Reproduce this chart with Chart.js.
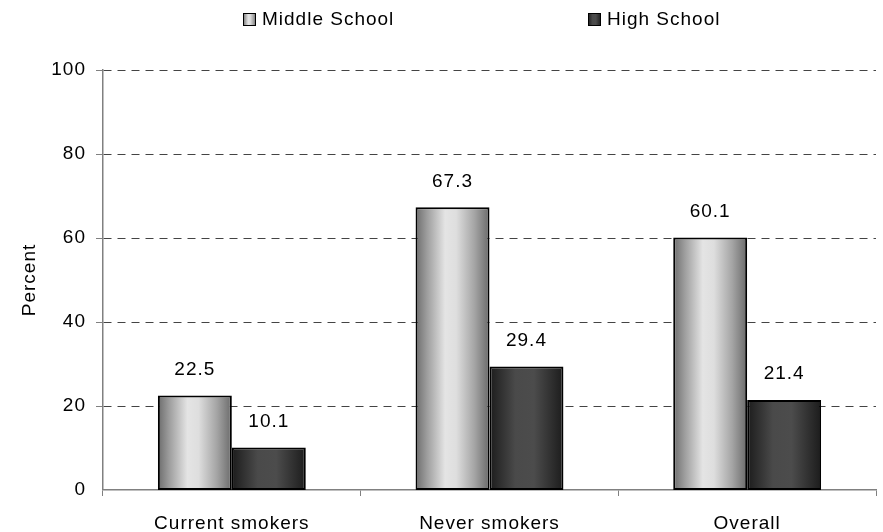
<!DOCTYPE html>
<html>
<head>
<meta charset="utf-8">
<script src="https://cdn.jsdelivr.net/npm/chart.js@4"></script>
<style>
  html, body { margin: 0; padding: 0; background: #fff; }
  #wrap { width: 883px; height: 532px; }
</style>
</head>
<body>
<div id="wrap"><canvas id="smokeChart" width="883" height="532"></canvas></div>
<script>
const categories = ['Current smokers', 'Never smokers', 'Overall'];
const middleSchool = [22.5, 67.3, 60.1];
const highSchool = [10.1, 29.4, 21.4];
const seriesNames = ['Middle School', 'High School'];

const FONT = '"Liberation Sans", Arial, sans-serif';

// horizontal "cylinder" shading
const lightStops = [[0, '#6c6c6c'], [0.15, '#9c9c9c'], [0.4, '#e4e4e4'], [0.55, '#dedede'], [0.8, '#a4a4a4'], [1, '#6a6a6a']];
const darkStops = [[0, '#1c1c1c'], [0.35, '#4a4a4a'], [0.6, '#4c4c4c'], [1, '#1c1c1c']];

function makeGradient(ctx, x0, x1, stops) {
  const g = ctx.createLinearGradient(x0, 0, x1, 0);
  stops.forEach(s => g.addColorStop(s[0], s[1]));
  return g;
}

const shadePlugin = {
  id: 'shade',
  beforeDraw(chart) {
    chart.ctx.letterSpacing = '1px';
  },
  beforeDatasetsDraw(chart) {
    const ctx = chart.ctx;
    chart.data.datasets.forEach((ds, i) => {
      const stops = i === 0 ? lightStops : darkStops;
      chart.getDatasetMeta(i).data.forEach(bar => {
        const g = makeGradient(ctx, bar.x - bar.width / 2, bar.x + bar.width / 2, stops);
        bar.options = Object.assign({}, bar.options, { backgroundColor: g });
      });
    });
  },
  afterDatasetsDraw(chart) {
    const ctx = chart.ctx;
    ctx.save();
    ctx.font = '19px ' + FONT;
    ctx.fillStyle = '#000';
    ctx.textAlign = 'center';
    ctx.textBaseline = 'middle';
    chart.data.datasets.forEach((ds, i) => {
      chart.getDatasetMeta(i).data.forEach((bar, j) => {
        ctx.fillText(ds.data[j].toFixed(1), bar.x, bar.y - 26);
      });
    });
    ctx.restore();
  },
  afterDraw(chart) {
    // legend
    const ctx = chart.ctx;
    const items = [[243, 262, lightStops], [588, 607, darkStops]];
    ctx.save();
    ctx.font = '19px ' + FONT;
    ctx.textBaseline = 'middle';
    items.forEach((it, i) => {
      ctx.fillStyle = makeGradient(ctx, it[0], it[0] + 13, it[2]);
      ctx.fillRect(it[0], 13, 13, 13);
      ctx.strokeStyle = '#000';
      ctx.lineWidth = 1;
      ctx.strokeRect(it[0] + 0.5, 13.5, 12, 12);
      ctx.fillStyle = '#000';
      ctx.fillText(seriesNames[i], it[1], 20);
    });
    ctx.restore();
  }
};

new Chart(document.getElementById('smokeChart'), {
  type: 'bar',
  data: {
    labels: categories,
    datasets: [
      { label: seriesNames[0], data: middleSchool, backgroundColor: '#ccc', borderColor: '#000', borderWidth: 2, borderSkipped: false },
      { label: seriesNames[1], data: highSchool, backgroundColor: '#333', borderColor: '#000', borderWidth: 2, borderSkipped: false }
    ]
  },
  options: {
    responsive: false,
    animation: false,
    layout: { padding: { top: 70, right: 7, left: 0, bottom: 0 } },
    datasets: { bar: { categoryPercentage: 0.574, barPercentage: 1 } },
    plugins: { legend: { display: false }, tooltip: { enabled: false } },
    scales: {
      x: {
        afterFit: s => { s.height = 42; },
        border: { color: '#808080', width: 1.5 },
        grid: { drawOnChartArea: false, color: '#808080', tickLength: 6 },
        ticks: { color: '#000', font: { family: FONT, size: 19 }, padding: 16 }
      },
      y: {
        min: 0, max: 100,
        afterFit: s => { s.width = 103; },
        border: { color: '#808080', width: 1.5 },
        grid: {
          color: '#444',
          tickColor: '#808080',
          tickLength: 7,
          lineWidth: ctx => ctx.tick && ctx.tick.value === 0 ? 0 : 1
        },
        ticks: { stepSize: 20, color: '#000', font: { family: FONT, size: 19 }, padding: 10 },
        title: { display: true, text: 'Percent', color: '#000', font: { family: FONT, size: 19 }, padding: { top: 18, bottom: 0 } }
      }
    }
  },
  plugins: [shadePlugin, {
    id: 'dashGrid',
    beforeDraw(chart) {
      chart.scales.y.options.border.dash = [8, 6];
    }
  }]
});
</script>
</body>
</html>
